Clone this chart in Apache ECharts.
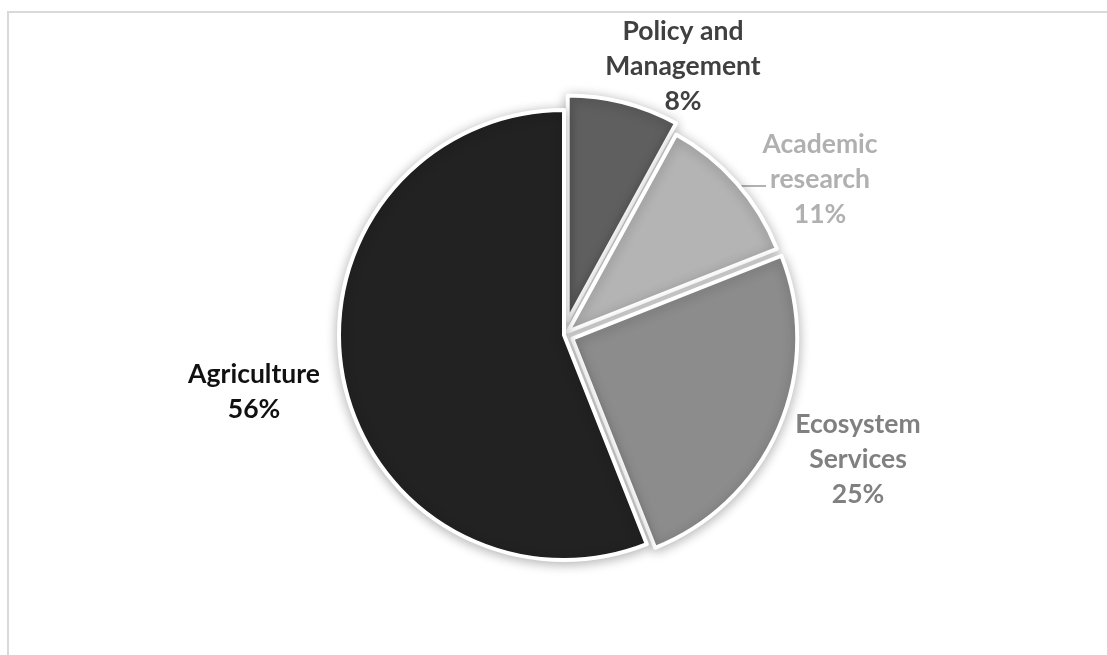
<!DOCTYPE html>
<html>
<head>
<meta charset="utf-8">
<script src="https://cdn.jsdelivr.net/npm/echarts@6/dist/echarts.min.js"></script>
<style>
  html, body { margin: 0; padding: 0; background: #fff; }
  #chart { width: 1107px; height: 655px; }
</style>
</head>
<body>
<div id="chart"></div>
<script>
// data, in clockwise order starting at 12 o'clock
var categories = ['Policy and\nManagement', 'Academic\nresearch', 'Ecosystem\nServices', 'Agriculture'];
var shares = [8, 11, 25, 56];

// styling
var sliceColors = ['#5f5f5f', '#b4b4b4', '#8c8c8c', '#222222'];
var labelColors = ['#404040', '#b0b0b0', '#808080', '#111111'];
var explodeBy = [15, 5, 9, 0];
var labelAnchors = [[683, 66], [820, 179], [858, 459], [254, 392]];

var myChart = echarts.init(document.getElementById('chart'));

var pieCenter = [564, 335];
var pieRadius = [0, 225];

// one pie series per slice so every slice can have its own explosion
var series = [];
for (var s = 0; s < categories.length; s++) {
    var data = [];
    for (var i = 0; i < categories.length; i++) {
        var own = i === s;
        data.push({
            name: categories[i],
            value: shares[i],
            selected: own && explodeBy[s] > 0,
            itemStyle: own ? {
                color: sliceColors[i],
                borderColor: '#fff',
                borderWidth: 4,
                shadowBlur: 12,
                shadowColor: 'rgba(0,0,0,0.28)',
                shadowOffsetX: 0,
                shadowOffsetY: 2
            } : { color: 'transparent', borderWidth: 0 }
        });
    }
    series.push({
        type: 'pie',
        center: pieCenter,
        radius: pieRadius,
        startAngle: 90,
        clockwise: true,
        selectedMode: 'single',
        selectedOffset: explodeBy[s],
        silent: true,
        emphasis: { disabled: true },
        label: { show: false },
        labelLine: { show: false },
        data: data
    });
}

// labels sit on an invisible copy of the pie
var labelData = [];
for (var k = 0; k < categories.length; k++) {
    labelData.push({
        name: categories[k],
        value: shares[k],
        itemStyle: { color: 'transparent', borderWidth: 0 },
        label: { color: labelColors[k] },
        labelLine: { show: k === 1 }
    });
}
series.push({
    type: 'pie',
    center: pieCenter,
    radius: pieRadius,
    startAngle: 90,
    clockwise: true,
    silent: true,
    emphasis: { disabled: true },
    avoidLabelOverlap: false,
    label: {
        show: true,
        position: 'outside',
        formatter: '{b}\n{d}%',
        fontFamily: 'Lato',
        fontWeight: 'bold',
        fontSize: 26.5,
        lineHeight: 35,
        align: 'center'
    },
    labelLine: {
        lineStyle: { color: '#999999', width: 1.5 }
    },
    labelLayout: function (params) {
        var p = labelAnchors[params.dataIndex];
        var res = { x: p[0], y: p[1], align: 'center', verticalAlign: 'middle' };
        if (params.dataIndex === 1) {
            res.labelLinePoints = [[736, 186], [750, 186], [766, 186]];
        }
        return res;
    },
    data: labelData
});

myChart.setOption({
    backgroundColor: '#fff',
    animation: false,
    graphic: [{
        type: 'rect',
        shape: { x: 8, y: 12, width: 1300, height: 800 },
        style: { fill: 'none', stroke: '#d9d9d9', lineWidth: 2 },
        silent: true
    }],
    series: series
});
</script>
</body>
</html>
